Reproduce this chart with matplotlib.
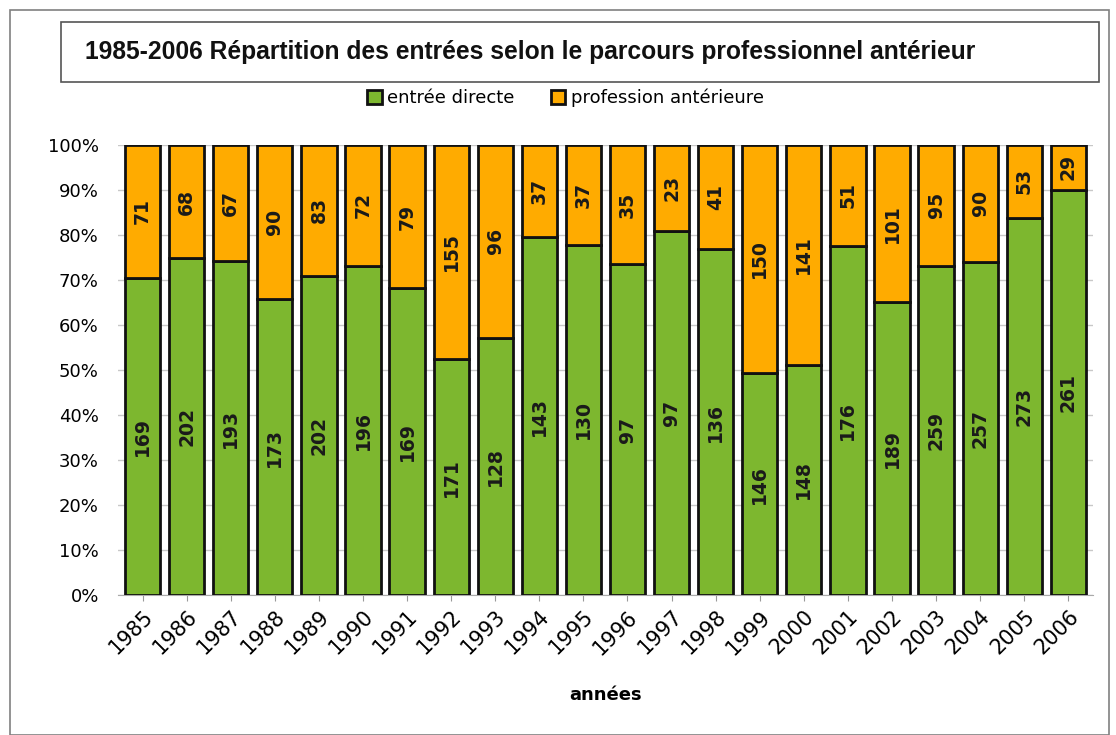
import numpy as np
import matplotlib.pyplot as plt
from matplotlib.patches import Rectangle

# Données
annees = ["1985", "1986", "1987", "1988", "1989", "1990", "1991", "1992", "1993", "1994", "1995",
          "1996", "1997", "1998", "1999", "2000", "2001", "2002", "2003", "2004", "2005", "2006"]
entree_directe = [169, 202, 193, 173, 202, 196, 169, 171, 128, 143, 130,
                  97, 97, 136, 146, 148, 176, 189, 259, 257, 273, 261]
profession_ant = [71, 68, 67, 90, 83, 72, 79, 155, 96, 37, 37,
                  35, 23, 41, 150, 141, 51, 101, 95, 90, 53, 29]

vert = "#7DB72F"
orange = "#FFAB00"

d = np.array(entree_directe, dtype=float)
p = np.array(profession_ant, dtype=float)
tot = d + p
pd_ = d / tot * 100
pp_ = p / tot * 100
x = np.arange(len(annees))

fig = plt.figure(figsize=(11.16, 7.35), dpi=100)
ax = fig.add_axes([0.106, 0.190, 0.873, 0.613])

# cadre extérieur
fig.patches.append(Rectangle((0.009, 0.0), 0.985, 0.986, transform=fig.transFigure,
                             fill=False, edgecolor="#808080", linewidth=1.2))

ax.bar(x, pd_, width=0.8, color=vert, edgecolor="#111111", linewidth=2, label="entrée directe", zorder=3)
ax.bar(x, pp_, width=0.8, bottom=pd_, color=orange, edgecolor="#111111", linewidth=2,
       label="profession antérieure", zorder=3)

for i in range(len(x)):
    ax.text(x[i], pd_[i] / 2, str(entree_directe[i]), rotation=90, ha="center", va="center",
            fontsize=13.5, fontweight="bold", color="#1a1a1a", zorder=4)
    ax.text(x[i], pd_[i] + pp_[i] / 2, str(profession_ant[i]), rotation=90, ha="center", va="center",
            fontsize=13.5, fontweight="bold", color="#1a1a1a", zorder=4)

ax.set_ylim(0, 100)
ax.set_xlim(-0.55, len(x) - 0.45)
ax.set_yticks(np.arange(0, 101, 10))
ax.set_yticklabels([f"{v}%" for v in range(0, 101, 10)], fontsize=13)
ax.set_xticks(x)
ax.set_xticklabels(annees, rotation=45, ha="right", rotation_mode="anchor", fontsize=15)
ax.yaxis.grid(True, color="#c8c8c8", linewidth=1, zorder=0)
ax.tick_params(axis="y", length=0, pad=14)
ax.tick_params(axis="x", length=4, color="#999999", pad=4)
for s in ["top", "right", "left"]:
    ax.spines[s].set_visible(False)
ax.spines["bottom"].set_color("#aaaaaa")
ax.set_xlabel("années", fontsize=13, fontweight="bold", labelpad=20)

ax.legend(loc="center", bbox_to_anchor=(0.459, 1.104), ncol=2, frameon=False, fontsize=13,
          handlelength=0.8, handleheight=0.8, columnspacing=2.0, handletextpad=0.3)

# titre encadré
fig.patches.append(Rectangle((0.055, 0.888), 0.93, 0.082, transform=fig.transFigure,
                             fill=False, edgecolor="#555555", linewidth=1.2))
fig.text(0.475, 0.929, "1985-2006 Répartition des entrées selon le parcours professionnel antérieur",
         ha="center", va="center", fontsize=17.7, fontweight="bold", family="Liberation Sans",
         color="#111111")

fig.savefig("out.png", dpi=100)
